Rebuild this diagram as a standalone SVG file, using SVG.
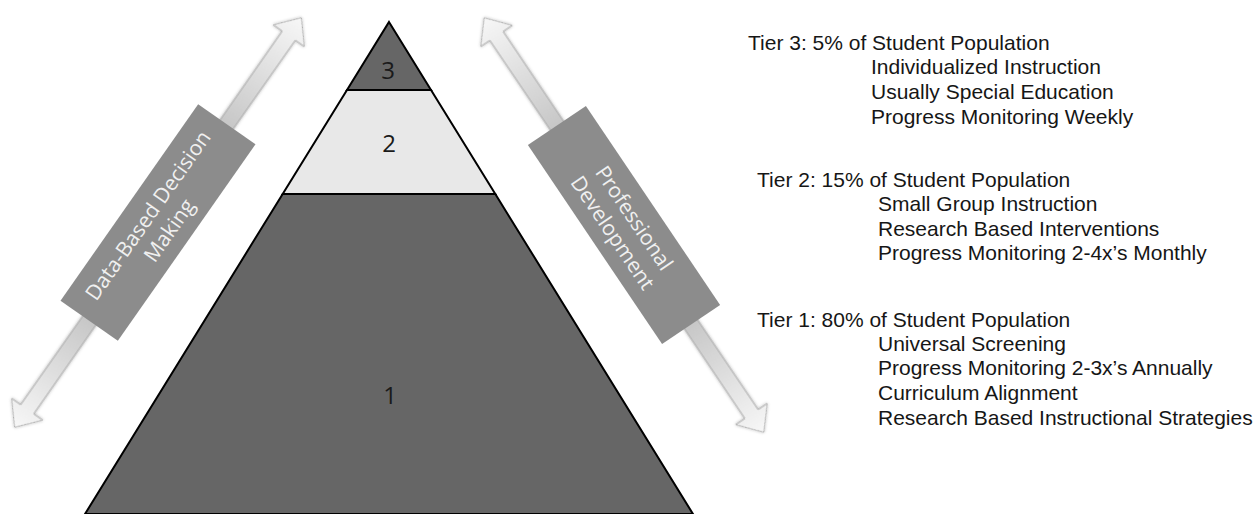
<svg xmlns="http://www.w3.org/2000/svg" width="1255" height="514" viewBox="0 0 1255 514">
  <style>
    .tier { stroke: #000; stroke-width: 2; stroke-linejoin: miter; }
    .dark { fill: #666666; }
    .light { fill: #e8e8e8; }
    .num { font-family: "Open Sans", "Liberation Sans", sans-serif; font-size: 24px; fill: #1a1a1a; text-anchor: middle; }
    .box { fill: #8c8c8c; }
    .boxtxt { font-family: "Open Sans", "Liberation Sans", sans-serif; font-size: 21px; fill: #f0f0f0; text-anchor: middle; }
    .arrow { fill: url(#arrowGrad); stroke: #a9a9a9; stroke-width: 1; filter: url(#soft); }
    .list { font-family: "Liberation Sans", Arial, sans-serif; font-size: 21px; fill: #161616; }
  </style>
  <defs>
    <linearGradient id="arrowGrad" gradientUnits="userSpaceOnUse" x1="-250" y1="0" x2="250" y2="0">
      <stop offset="0" stop-color="#f7f7f7"/>
      <stop offset="0.3" stop-color="#c0c0c0"/>
      <stop offset="0.5" stop-color="#959595"/>
      <stop offset="0.7" stop-color="#c0c0c0"/>
      <stop offset="1" stop-color="#f7f7f7"/>
    </linearGradient>
    <filter id="soft" x="-10%" y="-50%" width="120%" height="200%">
      <feDropShadow dx="0" dy="0" stdDeviation="1.5" flood-color="#000" flood-opacity="0.3"/>
    </filter>
    <path id="dblArrow" d="M -250,0 L -228,-19 L -228,-8 L 228,-8 L 228,-19 L 250,0 L 228,19 L 228,8 L -228,8 L -228,19 Z"/>
  </defs>

  <g id="pyramid">
    <g id="tier1">
      <polygon class="tier dark" points="282.7,194 495.3,194 693,514 85,514"/>
      <text class="num" x="390" y="404">1</text>
    </g>
    <g id="tier2">
      <polygon class="tier light" points="347,90 431,90 495.3,194 282.7,194"/>
      <text class="num" x="389" y="152">2</text>
    </g>
    <g id="tier3">
      <polygon class="tier dark" points="389,22 431,90 347,90"/>
      <text class="num" x="388" y="79">3</text>
    </g>
  </g>

  <g id="connectors">
    <g id="arrow-data" transform="translate(158,222.5) rotate(-55)">
      <use href="#dblArrow" class="arrow"/>
      <rect class="box" x="-120" y="-35" width="240" height="70"/>
      <text class="boxtxt" x="0" y="-5">Data-Based Decision</text>
      <text class="boxtxt" x="0" y="21">Making</text>
    </g>
    <g id="arrow-pd" transform="translate(624,225) rotate(56)">
      <use href="#dblArrow" class="arrow"/>
      <rect class="box" x="-120" y="-35" width="240" height="70"/>
      <text class="boxtxt" x="0" y="-5">Professional</text>
      <text class="boxtxt" x="0" y="21">Development</text>
    </g>
  </g>

  <g id="tier3-text" class="list">
    <text x="748" y="50">Tier 3: 5% of Student Population</text>
    <text x="871" y="74">Individualized Instruction</text>
    <text x="871" y="99">Usually Special Education</text>
    <text x="871" y="124">Progress Monitoring Weekly</text>
  </g>
  <g id="tier2-text" class="list">
    <text x="757" y="187">Tier 2: 15% of Student Population</text>
    <text x="878" y="211">Small Group Instruction</text>
    <text x="878" y="236">Research Based Interventions</text>
    <text x="878" y="260">Progress Monitoring 2-4x’s Monthly</text>
  </g>
  <g id="tier1-text" class="list">
    <text x="757" y="327">Tier 1: 80% of Student Population</text>
    <text x="878" y="351">Universal Screening</text>
    <text x="878" y="375">Progress Monitoring 2-3x’s Annually</text>
    <text x="878" y="400">Curriculum Alignment</text>
    <text x="878" y="425">Research Based Instructional Strategies</text>
  </g>
</svg>
